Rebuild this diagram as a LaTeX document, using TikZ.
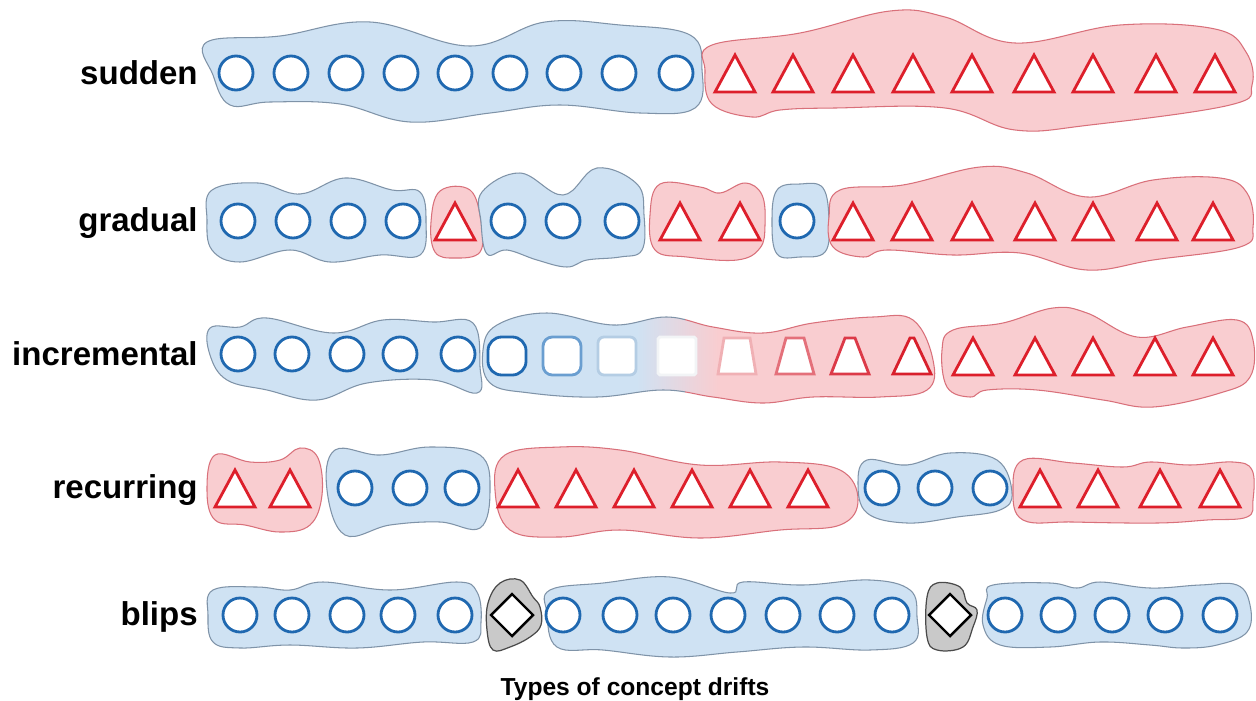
\documentclass[tikz,border=0pt]{standalone}
\usepackage{fontspec}
\setmainfont{Liberation Sans}
\definecolor{bfill}{HTML}{CFE2F3}
\definecolor{bline}{HTML}{7F93A8}
\definecolor{rfill}{HTML}{F9CDD0}
\definecolor{rline}{HTML}{D9707A}
\definecolor{circc}{HTML}{1F68B0}
\definecolor{tric}{HTML}{DD1F2B}
\definecolor{gfill}{HTML}{C9C9C9}
\definecolor{gline}{HTML}{4A4A4A}
\definecolor{m2}{HTML}{6A9ED0}
\definecolor{m3}{HTML}{B4CDE4}
\definecolor{m4}{HTML}{F2F4F6}
\definecolor{m5}{HTML}{F0B0B4}
\definecolor{m6}{HTML}{E4707A}
\definecolor{m7}{HTML}{DC3A48}
\definecolor{m8}{HTML}{D8202C}
\pgfdeclarehorizontalshading{bluered}{100bp}{color(0bp)=(bfill); color(42bp)=(bfill); color(51bp)=(rfill); color(100bp)=(rfill)}
\tikzset{
  bblob/.style={fill=bfill, draw=bline, line width=0.6pt},
  rblob/.style={fill=rfill, draw=rline, line width=0.6pt},
  gblob/.style={fill=gfill, draw=gline, line width=0.7pt},
  circ/.style={draw=circc, fill=white, line width=1.6pt},
  tri/.style={draw=tric, fill=white, line width=1.6pt, line join=miter},
  dia/.style={draw=black, fill=white, line width=1.4pt},
  morph/.style={fill=white, line width=1.6pt},
  lbl/.style={font=\fontsize{18.8}{22}\selectfont\bfseries, anchor=base east, inner sep=0pt},
}
\newcommand\mkC[2]{\draw[circ] (#1,#2) circle[radius=17];}
\newcommand\mkT[2]{\draw[tri] (#1,#2) ++(0,-19) -- ++(20,37) -- ++(-40,0) -- cycle;}
\newcommand\mkD[2]{\draw[dia] (#1,#2) ++(0,-21) -- ++(21,21) -- ++(-21,21) -- ++(-21,-21) -- cycle;}
\newcommand\blob[2]{\draw[#1] plot[smooth cycle, tension=0.65] coordinates {#2};}
\newcommand\mkTrap[4]{\draw[morph, draw=#4] (#1-19,#2+18) -- (#1+19,#2+18) -- (#1+#3,#2-18) -- (#1-#3,#2-18) -- cycle;}
\begin{document}
\begin{tikzpicture}[x=0.02cm, y=-0.02cm]
\useasboundingbox[fill=white] (0,0) rectangle (1256,700);

% ---------- labels ----------
\node[lbl] (lsud) at (198,84) {sudden};
\node[lbl] (lgra) at (198,231) {gradual};
\node[lbl] (linc) at (198,365) {incremental};
\node[lbl] (lrec) at (198,498) {recurring};
\node[lbl] (lbli) at (198,625) {blips};
\node[font=\fontsize{14}{16}\selectfont\bfseries, anchor=base, inner sep=0pt] (title) at (635,695) {Types of concept drifts};

% ---------- row 1: sudden ----------
\blob{bblob}{(207,42) (280,36) (370,22) (470,46) (545,22) (620,25) (690,35) (702,70) (695,108) (640,113) (560,105) (490,113) (410,122) (340,104) (270,102) (230,105) (213,75)}
\blob{rblob}{(712,45) (800,33) (890,11) (945,17) (1015,43) (1120,25) (1215,29) (1246,52) (1252,85) (1230,105) (1090,125) (1015,130) (945,108) (835,108) (780,110) (752,117) (712,104) (705,70)}
\foreach \x in {236,291,346,401,455,510,564,619,676} {\mkC{\x}{73}}
\foreach \x in {735,793,853,913,972,1034,1093,1156,1215} {\mkT{\x}{74}}

% ---------- row 2: gradual ----------
\blob{bblob}{(212,190) (258,183) (300,194) (345,178) (392,190) (420,192) (426,222) (420,255) (380,255) (330,262) (290,250) (240,262) (212,250) (207,220)}
\blob{rblob}{(440,191) (470,190) (481,222) (480,252) (455,258) (435,252) (431,222)}
\blob{bblob}{(482,192) (520,173) (563,195) (597,168) (637,184) (644,215) (642,250) (620,257) (587,260) (567,267) (537,260) (507,250) (487,254) (481,222)}
\blob{rblob}{(660,184) (700,187) (720,193) (745,183) (762,195) (765,225) (760,248) (737,260) (687,257) (655,250) (650,215)}
\blob{bblob}{(777,190) (800,184) (823,188) (829,222) (825,252) (800,257) (777,254) (772,222)}
\blob{rblob}{(840,190) (903,185) (980,167) (1027,173) (1087,197) (1153,180) (1220,178) (1247,193) (1253,227) (1240,247) (1153,260) (1087,270) (1020,253) (953,255) (887,250) (863,257) (833,247) (829,217)}
\foreach \x in {238,293,348,403,508,563,622,797} {\mkC{\x}{221}}
\foreach \x in {455,680,740,853,912,972,1035,1093,1157,1213} {\mkT{\x}{222}}

% ---------- row 3: incremental ----------
\blob{bblob}{(210,328) (240,327) (267,318) (333,333) (383,320) (433,322) (473,323) (480,367) (477,393) (433,380) (367,383) (317,400) (267,390) (227,380) (210,355)}
\path[shading=bluered] plot[smooth cycle, tension=0.65] coordinates {(497,325) (547,313) (613,325) (667,317) (713,327) (763,333) (813,323) (873,317) (913,320) (933,360) (927,390) (880,397) (813,397) (763,403) (713,397) (663,390) (597,397) (530,393) (490,383) (483,350)};
\begin{scope}
\clip (470,290) rectangle (685,420);
\draw[draw=bline, line width=0.6pt] plot[smooth cycle, tension=0.65] coordinates {(497,325) (547,313) (613,325) (667,317) (713,327) (763,333) (813,323) (873,317) (913,320) (933,360) (927,390) (880,397) (813,397) (763,403) (713,397) (663,390) (597,397) (530,393) (490,383) (483,350)};
\end{scope}
\begin{scope}
\clip (685,290) rectangle (950,420);
\draw[draw=rline, line width=0.6pt] plot[smooth cycle, tension=0.65] coordinates {(497,325) (547,313) (613,325) (667,317) (713,327) (763,333) (813,323) (873,317) (913,320) (933,360) (927,390) (880,397) (813,397) (763,403) (713,397) (663,390) (597,397) (530,393) (490,383) (483,350)};
\end{scope}
\blob{rblob}{(953,330) (1003,323) (1053,308) (1087,313) (1137,337) (1187,327) (1237,320) (1253,340) (1250,377) (1220,393) (1153,407) (1103,400) (1037,390) (987,390) (970,397) (947,387) (942,350)}
\foreach \x in {238,292,347,400,458} {\mkC{\x}{354}}
\draw[morph, draw=circc, rounded corners=7.8pt] (488,337) rectangle (526,375);
\draw[morph, draw=m2, rounded corners=5.3pt] (543,337) rectangle (581,375);
\draw[morph, draw=m3, rounded corners=3.4pt] (598,337) rectangle (636,375);
\draw[morph, draw=m4, rounded corners=1.1pt] (658,337) rectangle (696,375);
\mkTrap{737}{356}{13}{m5}
\mkTrap{795}{356}{9}{m6}
\mkTrap{850}{356}{5}{m7}
\mkTrap{912}{356}{2}{m8}
\foreach \x in {973,1035,1093,1155,1213} {\mkT{\x}{357}}

% ---------- row 4: recurring ----------
\blob{rblob}{(215,455) (250,462) (280,460) (300,448) (318,458) (322,495) (310,525) (280,532) (245,525) (215,520) (207,490)}
\blob{bblob}{(335,450) (380,455) (430,447) (480,455) (490,490) (480,528) (440,522) (390,525) (345,535) (327,490)}
\blob{rblob}{(505,455) (560,447) (620,450) (700,465) (780,462) (840,470) (858,500) (840,525) (780,530) (700,538) (620,530) (560,537) (510,530) (495,490)}
\blob{bblob}{(867,460) (907,465) (950,453) (997,460) (1012,493) (1000,510) (957,517) (907,523) (867,513) (858,483)}
\blob{rblob}{(1023,460) (1073,463) (1123,467) (1150,462) (1190,465) (1233,462) (1252,470) (1253,500) (1247,517) (1207,520) (1157,523) (1073,522) (1023,520) (1013,490)}
\foreach \x in {355,410,462,882,935,990} {\mkC{\x}{488}}
\foreach \x in {235,290,518,576,634,692,750,808,1040,1098,1160,1220} {\mkT{\x}{489}}

% ---------- row 5: blips ----------
\blob{bblob}{(213,590) (257,587) (290,590) (323,582) (390,590) (457,582) (477,592) (481,622) (473,642) (423,642) (357,648) (290,645) (240,648) (213,642) (208,615)}
\blob{gblob}{(500,583) (520,580) (533,597) (540,607) (541,625) (530,637) (510,647) (493,650) (487,630) (488,603)}
\blob{bblob}{(550,590) (603,583) (670,577) (730,593) (743,582) (803,585) (870,580) (910,590) (917,617) (913,643) (870,650) (803,647) (737,652) (670,657) (603,650) (557,647) (547,613)}
\blob{gblob}{(937,583) (960,587) (967,603) (977,610) (973,627) (963,647) (937,650) (927,637) (927,597)}
\blob{bblob}{(993,585) (1050,583) (1077,588) (1100,582) (1150,588) (1200,585) (1237,585) (1250,605) (1247,632) (1217,645) (1183,648) (1150,645) (1100,642) (1050,647) (1000,645) (983,625) (987,598)}
\foreach \x in {240,292,347,398,455,563,620,673,728,783,837,892,1005,1058,1112,1165,1220} {\mkC{\x}{615}}
\mkD{512}{615}
\mkD{950}{615}
\end{tikzpicture}
\end{document}
